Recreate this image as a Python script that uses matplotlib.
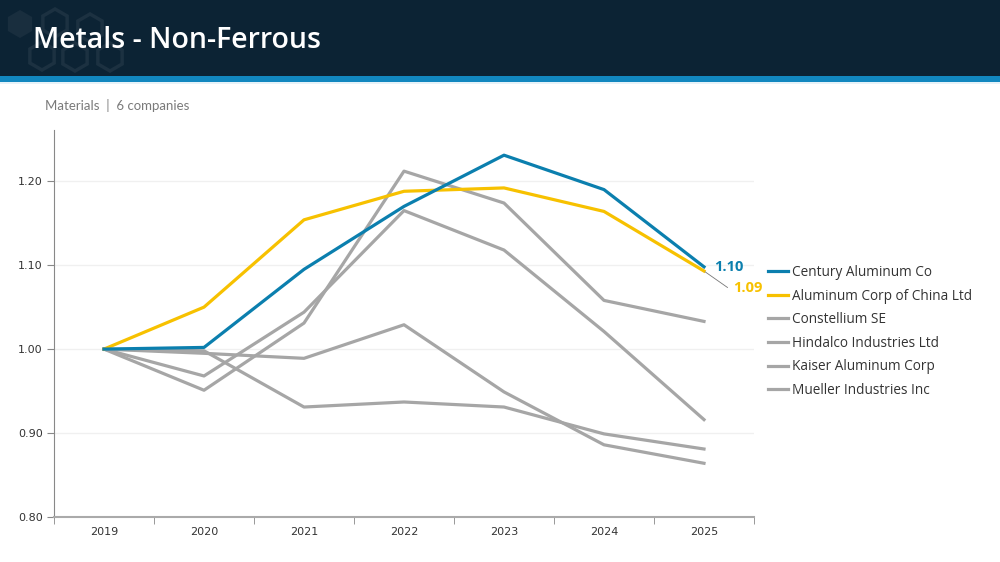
import matplotlib
matplotlib.use("Agg")
import matplotlib.pyplot as plt
from matplotlib.patches import Rectangle, RegularPolygon
from matplotlib.lines import Line2D

years = ["2019", "2020", "2021", "2022", "2023", "2024", "2025"]
century = [1.000, 1.002, 1.095, 1.170, 1.231, 1.190, 1.098]
chalco = [1.000, 1.050, 1.154, 1.188, 1.192, 1.164, 1.093]
constellium = [1.000, 0.951, 1.031, 1.212, 1.174, 1.058, 1.033]
hindalco = [1.000, 0.968, 1.044, 1.165, 1.118, 1.021, 0.916]
kaiser = [1.000, 0.995, 0.989, 1.029, 0.949, 0.886, 0.864]
mueller = [1.000, 0.998, 0.931, 0.937, 0.931, 0.899, 0.881]
names = ["Century Aluminum Co", "Aluminum Corp of China Ltd", "Constellium SE",
         "Hindalco Industries Ltd", "Kaiser Aluminum Corp", "Mueller Industries Inc"]
end_labels = ["1.10", "1.09"]
yticks = [0.80, 0.90, 1.00, 1.10, 1.20]

BLUE = "#0b7fae"
YELLOW = "#f7c100"
GRAY = "#a6a6a6"
NAVY = "#0c2334"

fig = plt.figure(figsize=(10, 5.62), dpi=100)
fig.patch.set_facecolor("white")

# header
hax = fig.add_axes([0, 1 - 84 / 562, 1, 84 / 562])
hax.set_xlim(0, 1000)
hax.set_ylim(84, 0)
hax.axis("off")
hax.add_patch(Rectangle((0, 0), 1000, 76, color=NAVY, lw=0))
hax.add_patch(Rectangle((0, 76), 1000, 6, color="#1287bf", lw=0))
hax.add_patch(Rectangle((0, 82), 1000, 2, color="#e6f2f8", lw=0))
hexc = "#1c3141"
hax.add_patch(RegularPolygon((20, 24), 6, radius=14, color="#192e3e", lw=0))
for cx, cy in [(55, 23), (90, 28), (42, 56), (75, 57), (110, 57)]:
    hax.add_patch(RegularPolygon((cx, cy), 6, radius=14, fill=False, ec=hexc, lw=2.5))
hax.text(33, 40, "Metals - Non-Ferrous", color="white", fontsize=20.5,
         family="Open Sans", va="center", ha="left", fontweight="semibold")

fig.text(0.045, 1 - 106 / 562, "Materials  |  6 companies", color="#7a7a7a",
         fontsize=9.5, family="Lato", va="center", ha="left")

ax = fig.add_axes([0.054, 1 - 517 / 562, 0.70, (517 - 130) / 562])
x = list(range(len(years)))
for s in [constellium, hindalco, kaiser, mueller]:
    ax.plot(x, s, color=GRAY, lw=2.3)
ax.plot(x, chalco, color=YELLOW, lw=2.3)
ax.plot(x, century, color=BLUE, lw=2.3)

ax.set_xlim(-0.5, len(years) - 0.5)
ax.set_ylim(0.80, 1.261)
ax.set_yticks(yticks)
ax.set_yticklabels([f"{v:.2f}" for v in yticks], fontsize=8, color="#333333")
ax.set_xticks(x)
ax.set_xticklabels(years, fontsize=8, color="#333333")
ax.set_xticks([i - 0.5 for i in range(len(years) + 1)], minor=True)
ax.tick_params(axis="x", which="major", length=0, pad=7)
ax.tick_params(axis="x", which="minor", length=5, color="#888888", direction="out")
ax.tick_params(axis="y", length=5, color="#888888", pad=3)
for v in yticks[1:]:
    ax.axhline(v, color="#f0f0f0", lw=1, zorder=0)
for sp in ["top", "right"]:
    ax.spines[sp].set_visible(False)
ax.spines["left"].set_color("#888888")
ax.spines["bottom"].set_color("#aaaaaa")
ax.spines["bottom"].set_linewidth(1.5)

# end labels
ax.annotate(end_labels[0], xy=(6, century[-1]), xytext=(7, 0), textcoords="offset points",
            color=BLUE, fontsize=10.5, fontweight="bold", va="center", ha="left",
            family="Open Sans", annotation_clip=False)
ax.annotate(end_labels[1], xy=(6, chalco[-1]), xytext=(21, -12), textcoords="offset points",
            color=YELLOW, fontsize=10.5, fontweight="bold", va="center", ha="left",
            family="Open Sans", annotation_clip=False,
            arrowprops=dict(arrowstyle="-", color="#777777", lw=0.6,
                            connectionstyle="angle,angleA=0,angleB=-35,rad=0",
                            shrinkA=2, shrinkB=1,
                            relpos=(0, 0.5)))

handles = [Line2D([], [], color=c, lw=2.3) for c in [BLUE, YELLOW, GRAY, GRAY, GRAY, GRAY]]
leg = fig.legend(handles, names, loc="upper left", bbox_to_anchor=(0.768, 1 - 265 / 562),
                 frameon=False, handlelength=1.5, handletextpad=0.25,
                 labelspacing=0.63, borderaxespad=0, borderpad=0,
                 prop={"family": "Open Sans", "size": 9.8})
for t in leg.get_texts():
    t.set_color("#333333")

fig.savefig("out.png", dpi=100, facecolor="white")
